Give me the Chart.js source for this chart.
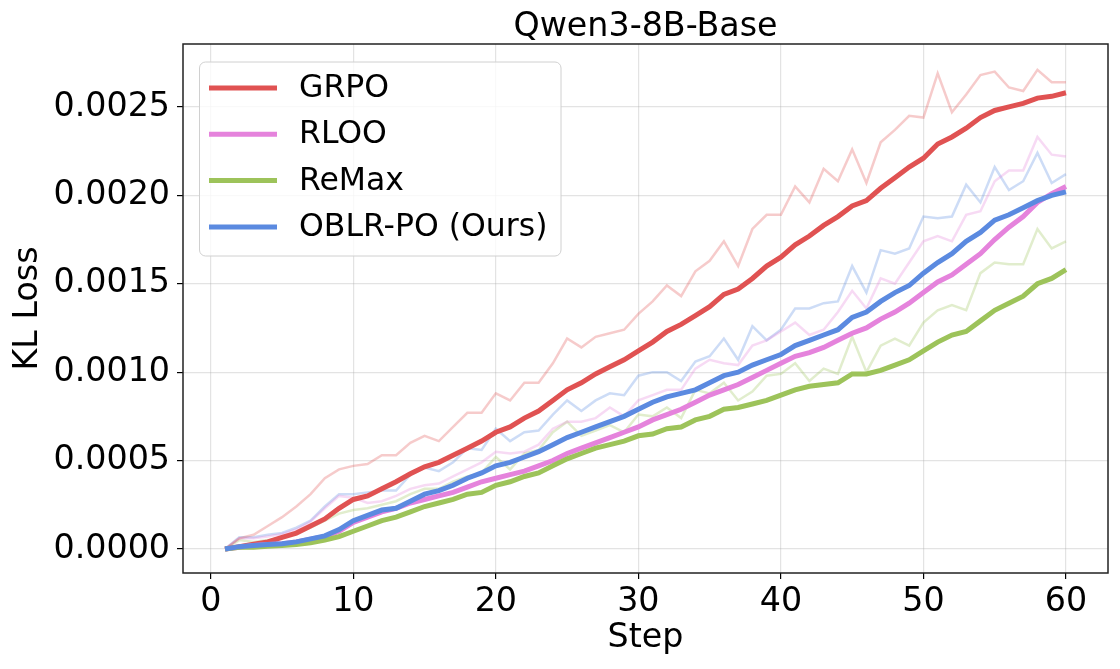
<!DOCTYPE html>
<html lang="en">
<head>
  <meta charset="UTF-8">
  <title>Qwen3-8B-Base | KL Loss</title>
  <script src="https://cdn.jsdelivr.net/npm/chart.js"></script>
  <style>
    html, body { margin: 0; padding: 0; background: #fff; }
    #wrap { width: 1120px; height: 669px; }
  </style>
</head>
<body>
  <div id="wrap">
    <canvas id="klChart" width="1120" height="669"></canvas>
  </div>

<script>
  // dados
  const steps = [1, 2, 3, 4, 5, 6, 7, 8, 9, 10, 11, 12, 13, 14, 15, 16, 17, 18, 19, 20,
    21, 22, 23, 24, 25, 26, 27, 28, 29, 30, 31, 32, 33, 34, 35, 36, 37, 38, 39, 40,
    41, 42, 43, 44, 45, 46, 47, 48, 49, 50, 51, 52, 53, 54, 55, 56, 57, 58, 59, 60];

  const xTicks = [0, 10, 20, 30, 40, 50, 60];
  const yTicks = [0, 0.0005, 0.0010, 0.0015, 0.0020, 0.0025];

  const labels = ['GRPO', 'RLOO', 'ReMax', 'OBLR-PO (Ours)'];
  const colors = ['#e05252', '#e583dc', '#9dc35a', '#5b8ae0'];

  const grpoRaw = [0, 0.00006, 0.00008, 0.00013, 0.00018, 0.00024, 0.00031, 0.00040, 0.00045, 0.00047,
    0.00048, 0.00053, 0.00053, 0.00060, 0.00064, 0.00061, 0.00069, 0.00077, 0.00077, 0.00088,
    0.00084, 0.00094, 0.00094, 0.00105, 0.00119, 0.00114, 0.00120, 0.00122, 0.00124, 0.00133,
    0.00140, 0.00149, 0.00143, 0.00157, 0.00163, 0.00174, 0.00160, 0.00181, 0.00189, 0.00189,
    0.00205, 0.00196, 0.00215, 0.00208, 0.00226, 0.00207, 0.00230, 0.00237, 0.00245, 0.00244,
    0.00269, 0.00247, 0.00257, 0.00268, 0.00270, 0.00261, 0.00259, 0.00271, 0.00264, 0.00264];
  const grpoSmooth = [0, 0.000013, 0.000027, 0.00004, 0.000066, 0.00009, 0.00013, 0.00017, 0.00023, 0.00028,
    0.00030, 0.00034, 0.00038, 0.000425, 0.000465, 0.00049, 0.00053, 0.00057, 0.00061, 0.00066,
    0.00069, 0.00074, 0.00078, 0.00084, 0.00090, 0.00094, 0.00099, 0.00103, 0.00107, 0.00112,
    0.00117, 0.00123, 0.00127, 0.00132, 0.00137, 0.00144, 0.00147, 0.00153, 0.00160, 0.00165,
    0.00172, 0.00177, 0.00183, 0.00188, 0.00194, 0.00197, 0.00204, 0.00210, 0.00216, 0.00221,
    0.00229, 0.00233, 0.00238, 0.00244, 0.00248, 0.00250, 0.00252, 0.00255, 0.00256, 0.00258];

  const rlooRaw = [0, 0.00006, 0.00006, 0.00007, 0.000085, 0.00011, 0.000155, 0.00023, 0.00030, 0.00029,
    0.00026, 0.00027, 0.00030, 0.00034, 0.00036, 0.00037, 0.00041, 0.00045, 0.00049, 0.00055,
    0.00054, 0.00055, 0.00059, 0.00068, 0.00072, 0.00072, 0.00074, 0.00080, 0.00075, 0.00084,
    0.00087, 0.00090, 0.00090, 0.00102, 0.00107, 0.00105, 0.00104, 0.00115, 0.00118, 0.00123,
    0.00128, 0.00121, 0.00124, 0.00134, 0.00146, 0.00136, 0.00153, 0.00150, 0.00162, 0.00174,
    0.00177, 0.00174, 0.00189, 0.00191, 0.00208, 0.00214, 0.00214, 0.00233, 0.00223, 0.00222];
  const rlooSmooth = [0, 0.00001, 0.00002, 0.000025, 0.00003, 0.00004, 0.000055, 0.00007, 0.0001, 0.00015,
    0.00018, 0.00021, 0.00023, 0.00026, 0.00028, 0.00030, 0.00032, 0.00035, 0.00038, 0.00040,
    0.00042, 0.00044, 0.00047, 0.00050, 0.00054, 0.00057, 0.00060, 0.00063, 0.00066, 0.00069,
    0.00073, 0.00076, 0.00079, 0.00083, 0.00087, 0.00090, 0.00093, 0.00097, 0.00101, 0.00105,
    0.00109, 0.00111, 0.00114, 0.00118, 0.00122, 0.00125, 0.00130, 0.00134, 0.00139, 0.00145,
    0.00151, 0.00155, 0.00161, 0.00167, 0.00175, 0.00182, 0.00188, 0.00196, 0.00201, 0.00205];

  const remaxRaw = [0, 0.00005, 0.00004, 0.00005, 0.000066, 0.000085, 0.00012, 0.00016, 0.00020, 0.00022,
    0.00023, 0.00025, 0.00027, 0.00031, 0.00034, 0.00034, 0.00038, 0.00041, 0.00043, 0.00052,
    0.00045, 0.00054, 0.00056, 0.00066, 0.00072, 0.00064, 0.00067, 0.00070, 0.00066, 0.00076,
    0.00075, 0.00080, 0.00074, 0.00090, 0.00088, 0.00094, 0.00084, 0.00089, 0.00098, 0.00099,
    0.00105, 0.00095, 0.00102, 0.00099, 0.00120, 0.00100, 0.00115, 0.00119, 0.00115, 0.00128,
    0.00135, 0.00138, 0.00135, 0.00156, 0.00162, 0.00161, 0.00161, 0.00181, 0.00170, 0.00174];
  const remaxSmooth = [0, 0.00001, 0.00001, 0.000015, 0.00002, 0.000025, 0.000035, 0.00005, 0.00007, 0.0001,
    0.00013, 0.00016, 0.00018, 0.00021, 0.00024, 0.00026, 0.00028, 0.00031, 0.00032, 0.00036,
    0.00038, 0.00041, 0.00043, 0.00047, 0.00051, 0.00054, 0.00057, 0.00059, 0.00061, 0.00064,
    0.00065, 0.00068, 0.00069, 0.00073, 0.00075, 0.00079, 0.00080, 0.00082, 0.00084, 0.00087,
    0.00090, 0.00092, 0.00093, 0.00094, 0.00099, 0.00099, 0.00101, 0.00104, 0.00107, 0.00112,
    0.00117, 0.00121, 0.00123, 0.00129, 0.00135, 0.00139, 0.00143, 0.00150, 0.00153, 0.00158];

  const oblrRaw = [0, 0.000066, 0.000066, 0.00008, 0.00009, 0.00012, 0.00016, 0.00024, 0.00031, 0.00031,
    0.00032, 0.00033, 0.00033, 0.00042, 0.00046, 0.00044, 0.00049, 0.00057, 0.00056, 0.00068,
    0.00061, 0.00066, 0.00067, 0.00076, 0.00084, 0.00078, 0.00084, 0.00088, 0.00087, 0.00098,
    0.00100, 0.00100, 0.00095, 0.00106, 0.00109, 0.00119, 0.00107, 0.00126, 0.00118, 0.00124,
    0.00136, 0.00136, 0.00139, 0.00140, 0.00160, 0.00145, 0.00169, 0.00167, 0.00170, 0.00188,
    0.00187, 0.00188, 0.00206, 0.00196, 0.00216, 0.00203, 0.00208, 0.00224, 0.00207, 0.00212];
  const oblrSmooth = [0, 0.000013, 0.00002, 0.000025, 0.00003, 0.00004, 0.000057, 0.000074, 0.00011, 0.00016,
    0.00019, 0.00022, 0.00023, 0.00027, 0.00031, 0.00033, 0.00036, 0.00040, 0.00043, 0.00047,
    0.00049, 0.00052, 0.00055, 0.00059, 0.00063, 0.00066, 0.00069, 0.00072, 0.00075, 0.00079,
    0.00083, 0.00086, 0.00088, 0.00090, 0.00094, 0.00098, 0.00100, 0.00104, 0.00107, 0.00110,
    0.00115, 0.00118, 0.00121, 0.00124, 0.00131, 0.00134, 0.00140, 0.00145, 0.00149, 0.00156,
    0.00162, 0.00167, 0.00174, 0.00179, 0.00186, 0.00189, 0.00193, 0.00197, 0.00200, 0.00202];

  const rawSeries = [grpoRaw, rlooRaw, remaxRaw, oblrRaw];
  const smoothSeries = [grpoSmooth, rlooSmooth, remaxSmooth, oblrSmooth];

  const FONT = "'DejaVu Sans', sans-serif";
  const TAM = 33.3;

  function pontos(vals) {
    return steps.map((s, i) => ({ x: s, y: vals[i] }));
  }

  function comAlpha(hex, a) {
    const n = parseInt(hex.slice(1), 16);
    return `rgba(${(n >> 16) & 255}, ${(n >> 8) & 255}, ${n & 255}, ${a})`;
  }

  const datasets = [];
  // linhas finas (brutas) embaixo
  rawSeries.forEach((vals, i) => {
    datasets.push({
      label: labels[i] + ' raw',
      data: pontos(vals),
      borderColor: comAlpha(colors[i], 0.3),
      borderWidth: 2.5,
      pointRadius: 0,
      tension: 0,
      order: 10
    });
  });
  // linhas grossas (suavizadas), azul por cima
  smoothSeries.forEach((vals, i) => {
    datasets.push({
      label: labels[i],
      data: pontos(vals),
      borderColor: colors[i],
      borderWidth: 5,
      pointRadius: 0,
      tension: 0,
      order: 4 - i
    });
  });

  // titulo, moldura e legenda desenhados por cima
  const extras = {
    id: 'extras',
    afterDraw(chart) {
      const { ctx, chartArea: a } = chart;
      ctx.save();
      ctx.strokeStyle = '#222';
      ctx.lineWidth = 1.5;
      ctx.strokeRect(a.left, a.top, a.right - a.left, a.bottom - a.top);

      ctx.fillStyle = '#000';
      ctx.font = `${TAM}px ${FONT}`;
      ctx.textAlign = 'center';
      ctx.textBaseline = 'middle';
      ctx.fillText('Qwen3-8B-Base', (a.left + a.right) / 2, 27);

      // legenda
      const bx = 199.5, by = 62, bw = 361.5, bh = 194;
      ctx.beginPath();
      ctx.roundRect(bx, by, bw, bh, 6);
      ctx.fillStyle = 'rgba(255,255,255,0.8)';
      ctx.fill();
      ctx.strokeStyle = '#d0d0d0';
      ctx.lineWidth = 1;
      ctx.stroke();

      ctx.font = `31.5px ${FONT}`;
      ctx.textAlign = 'left';
      labels.forEach((lab, i) => {
        const y = 88 + i * 46.3;
        ctx.strokeStyle = colors[i];
        ctx.lineWidth = 5;
        ctx.beginPath();
        ctx.moveTo(209, y);
        ctx.lineTo(277, y);
        ctx.stroke();
        ctx.fillStyle = '#000';
        ctx.fillText(lab, 299, y + 1);
      });
      ctx.restore();
    }
  };

  Chart.defaults.color = '#000';
  Chart.defaults.font.family = FONT;

  const klChart = new Chart(document.getElementById('klChart').getContext('2d'), {
    type: 'line',
    data: { datasets },
    options: {
      responsive: false,
      animation: false,
      devicePixelRatio: 1,
      layout: { padding: { top: 44, right: 12, left: 0, bottom: 0 } },
      plugins: {
        legend: { display: false },
        tooltip: { enabled: false },
        title: { display: false }
      },
      scales: {
        x: {
          type: 'linear',
          min: -1.95,
          max: 62.95,
          afterBuildTicks: (s) => { s.ticks = xTicks.map(v => ({ value: v })); },
          afterFit: (s) => { s.height = 96; },
          ticks: { font: { size: TAM }, padding: 3, maxRotation: 0 },
          grid: { color: 'rgba(176,176,176,0.35)', lineWidth: 1.2, tickColor: '#000', tickLength: 6, tickWidth: 1.2 },
          border: { display: false },
          title: { display: true, text: 'Step', font: { size: TAM }, padding: { top: 0, bottom: 11 } }
        },
        y: {
          type: 'linear',
          min: -0.000136,
          max: 0.002856,
          afterBuildTicks: (s) => { s.ticks = yTicks.map(v => ({ value: v })); },
          afterFit: (s) => { s.width = 183; },
          ticks: { font: { size: TAM }, padding: 7, callback: (v) => Number(v).toFixed(4) },
          grid: { color: 'rgba(176,176,176,0.35)', lineWidth: 1.2, tickColor: '#000', tickLength: 6, tickWidth: 1.2 },
          border: { display: false },
          title: { display: true, text: 'KL Loss', font: { size: TAM }, padding: { top: 8, bottom: 0 } }
        }
      }
    },
    plugins: [extras]
  });
</script>
</body>
</html>
